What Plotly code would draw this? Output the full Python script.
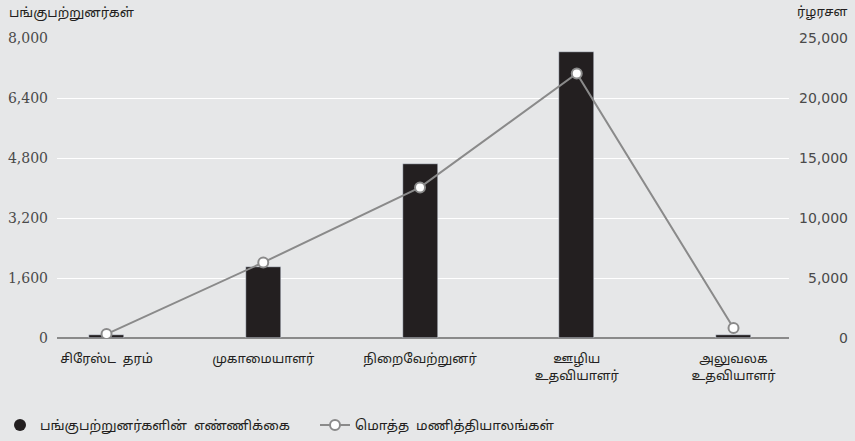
import plotly.graph_objects as go

categories = ["சிரேஸ்ட  தரம்", "முகாமையாளர்", "நிறைவேற்றுனர்", "ஊழிய<br>உதவியாளர்", "அலுவலக<br>உதவியாளர்"]
participants = [80, 1900, 4630, 7620, 90]
hours = [330, 6300, 12550, 22050, 830]
left_ticks = [0, 1600, 3200, 4800, 6400, 8000]
left_ticktext = ["0", "1,600", "3,200", "4,800", "6,400", "8,000"]
right_ticks = [0, 5000, 10000, 15000, 20000, 25000]
right_ticktext = ["0", "5,000", "10,000", "15,000", "20,000", "25,000"]
series_names = ["பங்குபற்றுனர்களின்  எண்ணிக்கை", "மொத்த  மணித்தியாலங்கள்"]
left_title = "பங்குபற்றுனர்கள்"
right_title = "ர்ழரசள"

BG = "#e6e7e8"
BAR = "#231f20"
LINE = "#8a8a8a"
TAMIL = "Noto Sans Tamil, Latha, Noto Sans, sans-serif"

xs = list(range(len(categories)))

fig = go.Figure()
fig.add_trace(go.Bar(x=xs, y=participants, marker_color=BAR, width=0.223,
                     showlegend=False, yaxis="y"))
fig.add_trace(go.Scatter(x=[None], y=[None], mode="markers", name=series_names[0],
                         marker=dict(color=BAR, size=12, symbol="circle")))
fig.add_trace(go.Scatter(x=xs, y=hours, mode="lines+markers", name=series_names[1],
                         yaxis="y2", line=dict(color=LINE, width=2),
                         marker=dict(color="white", size=10, line=dict(color=LINE, width=2))))

fig.update_layout(
    width=855, height=441,
    margin=dict(l=57, r=66, t=38, b=103, autoexpand=False),
    paper_bgcolor=BG, plot_bgcolor=BG,
    font=dict(family=TAMIL, size=13, color="#231f20"),
    xaxis=dict(tickmode="array", tickvals=xs, ticktext=categories, range=[-0.316, 4.354],
               showgrid=False, zeroline=False, showline=False, ticks="", tickangle=0,
               automargin=False, ticklabelstandoff=11,
               tickfont=dict(size=13, family=TAMIL)),
    yaxis=dict(range=[0, 8000], tickvals=left_ticks, ticktext=left_ticktext,
               showgrid=True, gridcolor="white", gridwidth=1, zeroline=True,
               zerolinecolor="#8a8a8a", zerolinewidth=1.5, showline=False, ticks="",
               ticklabelstandoff=8, automargin=False,
               tickfont=dict(family="DejaVu Serif", size=14, color="#4a4a4a")),
    yaxis2=dict(range=[0, 25000], overlaying="y", side="right", showgrid=False,
                zeroline=False, showticklabels=False, ticks="", automargin=False),
    legend=dict(orientation="h", x=0.0, xanchor="left", y=0.036, yanchor="middle",
                xref="container", yref="container", font=dict(size=13.5, family=TAMIL),
                itemwidth=30, entrywidth=270, entrywidthmode="pixels",
                bgcolor="rgba(0,0,0,0)", tracegroupgap=0),
    bargap=0,
)

annotations = []
for v, t in zip(right_ticks, right_ticktext):
    annotations.append(dict(xref="paper", yref="y2", x=1.083, y=v, text=t, showarrow=False,
                            xanchor="right", yanchor="middle",
                            font=dict(family="DejaVu Sans", size=14, color="#4a4a4a")))
annotations.append(dict(xref="paper", yref="paper", x=-0.068, y=1.0, yshift=25, text=left_title,
                        showarrow=False, xanchor="left", yanchor="middle",
                        font=dict(size=13.3, family=TAMIL)))
annotations.append(dict(xref="paper", yref="paper", x=1.083, y=1.0, yshift=25, text=right_title,
                        showarrow=False, xanchor="right", yanchor="middle",
                        font=dict(size=13, family=TAMIL)))
fig.update_layout(annotations=annotations)

fig.write_html("out.html", config={"displayModeBar": False},
               post_script="document.body.style.margin='0';document.body.style.padding='0';document.body.style.overflow='hidden';")
